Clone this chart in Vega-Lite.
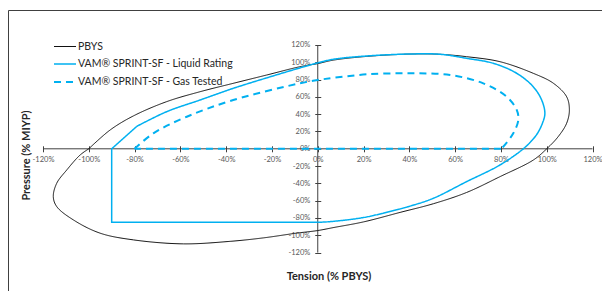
{
  "$schema": "https://vega.github.io/schema/vega-lite/v6.json",
  "width": 600,
  "height": 290,
  "autosize": {"type": "none"},
  "padding": {"left": 8, "top": 10, "right": 0, "bottom": 0},
  "background": "white",
  "datasets": {
    "axes": [
      {"t": -120, "t2": 120, "p": 0, "p2": 0},
      {"t": 0, "t2": 0, "p": -120, "p2": 120}
    ],
    "curves": [
      {"s": "PBYS", "g": "P", "k": "c", "i": 0, "t": -100, "p": 0},
      {"s": "PBYS", "g": "P", "k": "c", "i": 1, "t": -90.7, "p": 21.7},
      {"s": "PBYS", "g": "P", "k": "c", "i": 2, "t": -80.6, "p": 37.9},
      {"s": "PBYS", "g": "P", "k": "c", "i": 3, "t": -66, "p": 54.5},
      {"s": "PBYS", "g": "P", "k": "c", "i": 4, "t": -51.4, "p": 66},
      {"s": "PBYS", "g": "P", "k": "c", "i": 5, "t": -36.9, "p": 75.7},
      {"s": "PBYS", "g": "P", "k": "c", "i": 6, "t": -22.3, "p": 85.3},
      {"s": "PBYS", "g": "P", "k": "c", "i": 7, "t": -7.8, "p": 94.9},
      {"s": "PBYS", "g": "P", "k": "c", "i": 8, "t": 0, "p": 98.5},
      {"s": "PBYS", "g": "P", "k": "c", "i": 9, "t": 6.8, "p": 102.5},
      {"s": "PBYS", "g": "P", "k": "c", "i": 10, "t": 21.4, "p": 106.8},
      {"s": "PBYS", "g": "P", "k": "c", "i": 11, "t": 40, "p": 109.5},
      {"s": "PBYS", "g": "P", "k": "c", "i": 12, "t": 53, "p": 109.3},
      {"s": "PBYS", "g": "P", "k": "c", "i": 13, "t": 65, "p": 106.5},
      {"s": "PBYS", "g": "P", "k": "c", "i": 14, "t": 79.6, "p": 100.7},
      {"s": "PBYS", "g": "P", "k": "c", "i": 15, "t": 94.1, "p": 87.3},
      {"s": "PBYS", "g": "P", "k": "c", "i": 16, "t": 102.9, "p": 75.8},
      {"s": "PBYS", "g": "P", "k": "c", "i": 17, "t": 108.7, "p": 60.2},
      {"s": "PBYS", "g": "P", "k": "c", "i": 18, "t": 109.9, "p": 44.9},
      {"s": "PBYS", "g": "P", "k": "c", "i": 19, "t": 108.7, "p": 29.5},
      {"s": "PBYS", "g": "P", "k": "c", "i": 20, "t": 105, "p": 14},
      {"s": "PBYS", "g": "P", "k": "c", "i": 21, "t": 100, "p": 0},
      {"s": "PBYS", "g": "P", "k": "c", "i": 22, "t": 94.2, "p": -12.9},
      {"s": "PBYS", "g": "P", "k": "c", "i": 23, "t": 79.6, "p": -32.2},
      {"s": "PBYS", "g": "P", "k": "c", "i": 24, "t": 65, "p": -50.5},
      {"s": "PBYS", "g": "P", "k": "c", "i": 25, "t": 50.5, "p": -63.5},
      {"s": "PBYS", "g": "P", "k": "c", "i": 26, "t": 36, "p": -73.5},
      {"s": "PBYS", "g": "P", "k": "c", "i": 27, "t": 20, "p": -84.5},
      {"s": "PBYS", "g": "P", "k": "c", "i": 28, "t": 7, "p": -91},
      {"s": "PBYS", "g": "P", "k": "c", "i": 29, "t": 0, "p": -94.5},
      {"s": "PBYS", "g": "P", "k": "c", "i": 30, "t": -9.2, "p": -97.5},
      {"s": "PBYS", "g": "P", "k": "c", "i": 31, "t": -23.8, "p": -103},
      {"s": "PBYS", "g": "P", "k": "c", "i": 32, "t": -38.3, "p": -107},
      {"s": "PBYS", "g": "P", "k": "c", "i": 33, "t": -58.7, "p": -109.9},
      {"s": "PBYS", "g": "P", "k": "c", "i": 34, "t": -80.5, "p": -105.3},
      {"s": "PBYS", "g": "P", "k": "c", "i": 35, "t": -95.1, "p": -97.5},
      {"s": "PBYS", "g": "P", "k": "c", "i": 36, "t": -106.8, "p": -82.1},
      {"s": "PBYS", "g": "P", "k": "c", "i": 37, "t": -114, "p": -66.8},
      {"s": "PBYS", "g": "P", "k": "c", "i": 38, "t": -115.5, "p": -55.3},
      {"s": "PBYS", "g": "P", "k": "c", "i": 39, "t": -114, "p": -39.8},
      {"s": "PBYS", "g": "P", "k": "c", "i": 40, "t": -109.6, "p": -24.4},
      {"s": "PBYS", "g": "P", "k": "c", "i": 41, "t": -103.8, "p": -7.2},
      {"s": "PBYS", "g": "P", "k": "c", "i": 42, "t": -100, "p": 0},

      {"s": "VAM® SPRINT-SF - Liquid Rating", "g": "Lc", "k": "c", "i": 0, "t": 0, "p": -85},
      {"s": "VAM® SPRINT-SF - Liquid Rating", "g": "Lc", "k": "c", "i": 1, "t": 5.3, "p": -84.2},
      {"s": "VAM® SPRINT-SF - Liquid Rating", "g": "Lc", "k": "c", "i": 2, "t": 19.9, "p": -79.5},
      {"s": "VAM® SPRINT-SF - Liquid Rating", "g": "Lc", "k": "c", "i": 3, "t": 33.7, "p": -71},
      {"s": "VAM® SPRINT-SF - Liquid Rating", "g": "Lc", "k": "c", "i": 4, "t": 40.3, "p": -66.3},
      {"s": "VAM® SPRINT-SF - Liquid Rating", "g": "Lc", "k": "c", "i": 5, "t": 50.5, "p": -57.2},
      {"s": "VAM® SPRINT-SF - Liquid Rating", "g": "Lc", "k": "c", "i": 6, "t": 65, "p": -38},
      {"s": "VAM® SPRINT-SF - Liquid Rating", "g": "Lc", "k": "c", "i": 7, "t": 79.6, "p": -18.7},
      {"s": "VAM® SPRINT-SF - Liquid Rating", "g": "Lc", "k": "c", "i": 8, "t": 89.8, "p": 0},
      {"s": "VAM® SPRINT-SF - Liquid Rating", "g": "Lc", "k": "c", "i": 9, "t": 93.3, "p": 9},
      {"s": "VAM® SPRINT-SF - Liquid Rating", "g": "Lc", "k": "c", "i": 10, "t": 96, "p": 18},
      {"s": "VAM® SPRINT-SF - Liquid Rating", "g": "Lc", "k": "c", "i": 11, "t": 98.2, "p": 30},
      {"s": "VAM® SPRINT-SF - Liquid Rating", "g": "Lc", "k": "c", "i": 12, "t": 99.2, "p": 41},
      {"s": "VAM® SPRINT-SF - Liquid Rating", "g": "Lc", "k": "c", "i": 13, "t": 97.8, "p": 56.4},
      {"s": "VAM® SPRINT-SF - Liquid Rating", "g": "Lc", "k": "c", "i": 14, "t": 94.1, "p": 71.8},
      {"s": "VAM® SPRINT-SF - Liquid Rating", "g": "Lc", "k": "c", "i": 15, "t": 86.9, "p": 87.3},
      {"s": "VAM® SPRINT-SF - Liquid Rating", "g": "Lc", "k": "c", "i": 16, "t": 76.7, "p": 98.8},
      {"s": "VAM® SPRINT-SF - Liquid Rating", "g": "Lc", "k": "c", "i": 17, "t": 65, "p": 104.6},
      {"s": "VAM® SPRINT-SF - Liquid Rating", "g": "Lc", "k": "c", "i": 18, "t": 53.4, "p": 109.3},
      {"s": "VAM® SPRINT-SF - Liquid Rating", "g": "Lc", "k": "c", "i": 19, "t": 40.3, "p": 109.6},
      {"s": "VAM® SPRINT-SF - Liquid Rating", "g": "Lc", "k": "c", "i": 20, "t": 21.4, "p": 107.3},
      {"s": "VAM® SPRINT-SF - Liquid Rating", "g": "Lc", "k": "c", "i": 21, "t": 6.8, "p": 103.5},
      {"s": "VAM® SPRINT-SF - Liquid Rating", "g": "Lc", "k": "c", "i": 22, "t": 0, "p": 99.3},
      {"s": "VAM® SPRINT-SF - Liquid Rating", "g": "Lc", "k": "c", "i": 23, "t": -7.8, "p": 93.5},
      {"s": "VAM® SPRINT-SF - Liquid Rating", "g": "Lc", "k": "c", "i": 24, "t": -22.3, "p": 82},
      {"s": "VAM® SPRINT-SF - Liquid Rating", "g": "Lc", "k": "c", "i": 25, "t": -36.9, "p": 69.9},
      {"s": "VAM® SPRINT-SF - Liquid Rating", "g": "Lc", "k": "c", "i": 26, "t": -51.4, "p": 56.4},
      {"s": "VAM® SPRINT-SF - Liquid Rating", "g": "Lc", "k": "c", "i": 27, "t": -66, "p": 42.9},
      {"s": "VAM® SPRINT-SF - Liquid Rating", "g": "Lc", "k": "c", "i": 28, "t": -79, "p": 26},
      {"s": "VAM® SPRINT-SF - Liquid Rating", "g": "Ls", "k": "s", "i": 0, "t": -79, "p": 26},
      {"s": "VAM® SPRINT-SF - Liquid Rating", "g": "Ls", "k": "s", "i": 1, "t": -90, "p": 0},
      {"s": "VAM® SPRINT-SF - Liquid Rating", "g": "Ls", "k": "s", "i": 2, "t": -90, "p": -85},
      {"s": "VAM® SPRINT-SF - Liquid Rating", "g": "Ls", "k": "s", "i": 3, "t": 0, "p": -85},

      {"s": "VAM® SPRINT-SF - Gas Tested", "g": "Gc", "k": "c", "i": 0, "t": -80, "p": 0},
      {"s": "VAM® SPRINT-SF - Gas Tested", "g": "Gc", "k": "c", "i": 1, "t": -71.8, "p": 17.9},
      {"s": "VAM® SPRINT-SF - Gas Tested", "g": "Gc", "k": "c", "i": 2, "t": -57.2, "p": 37.1},
      {"s": "VAM® SPRINT-SF - Gas Tested", "g": "Gc", "k": "c", "i": 3, "t": -36.9, "p": 56.4},
      {"s": "VAM® SPRINT-SF - Gas Tested", "g": "Gc", "k": "c", "i": 4, "t": -7.8, "p": 75.7},
      {"s": "VAM® SPRINT-SF - Gas Tested", "g": "Gc", "k": "c", "i": 5, "t": 0, "p": 79.5},
      {"s": "VAM® SPRINT-SF - Gas Tested", "g": "Gc", "k": "c", "i": 6, "t": 6.8, "p": 82},
      {"s": "VAM® SPRINT-SF - Gas Tested", "g": "Gc", "k": "c", "i": 7, "t": 21.4, "p": 86.1},
      {"s": "VAM® SPRINT-SF - Gas Tested", "g": "Gc", "k": "c", "i": 8, "t": 40.3, "p": 87.3},
      {"s": "VAM® SPRINT-SF - Gas Tested", "g": "Gc", "k": "c", "i": 9, "t": 57.8, "p": 85.3},
      {"s": "VAM® SPRINT-SF - Gas Tested", "g": "Gc", "k": "c", "i": 10, "t": 72.3, "p": 75.7},
      {"s": "VAM® SPRINT-SF - Gas Tested", "g": "Gc", "k": "c", "i": 11, "t": 82.5, "p": 60.2},
      {"s": "VAM® SPRINT-SF - Gas Tested", "g": "Gc", "k": "c", "i": 12, "t": 86.9, "p": 44.9},
      {"s": "VAM® SPRINT-SF - Gas Tested", "g": "Gc", "k": "c", "i": 13, "t": 87.6, "p": 33.3},
      {"s": "VAM® SPRINT-SF - Gas Tested", "g": "Gc", "k": "c", "i": 14, "t": 85.4, "p": 17.9},
      {"s": "VAM® SPRINT-SF - Gas Tested", "g": "Gc", "k": "c", "i": 15, "t": 81, "p": 2.4},
      {"s": "VAM® SPRINT-SF - Gas Tested", "g": "Gc", "k": "c", "i": 16, "t": 80, "p": 0},
      {"s": "VAM® SPRINT-SF - Gas Tested", "g": "Gs", "k": "s", "i": 0, "t": 80, "p": 0},
      {"s": "VAM® SPRINT-SF - Gas Tested", "g": "Gs", "k": "s", "i": 1, "t": -80, "p": 0}
    ]
  },
  "encoding": {
    "x": {
      "field": "t", "type": "quantitative",
      "scale": {"domain": [-135.286, 126.768], "nice": false, "zero": false},
      "axis": {
        "title": "Tension (% PBYS)",
        "values": [-120, -100, -80, -60, -40, -20, 0, 20, 40, 60, 80, 100, 120],
        "labelExpr": "datum.value + '%'",
        "domain": false, "grid": false,
        "offset": -154.2,
        "tickSize": 6, "tickColor": "#404040", "tickWidth": 1,
        "labelFont": "Lato", "labelFontSize": 7.5, "labelColor": "#595959",
        "labelPadding": 4, "labelFlush": false, "labelOverlap": false,
        "titleFont": "Lato", "titleFontSize": 11, "titleFontWeight": "bold", "titleColor": "#262626",
        "titleX": 320.5, "titleY": 131, "titleAlign": "center", "titleBaseline": "middle"
      }
    },
    "y": {
      "field": "p", "type": "quantitative",
      "scale": {"domain": [-174.8, 160.46], "nice": false, "zero": false},
      "axis": {
        "title": "Pressure (% MIYP)",
        "values": [-120, -100, -80, -60, -40, -20, 0, 20, 40, 60, 80, 100, 120],
        "labelExpr": "datum.value + '%'",
        "domain": false, "grid": false,
        "offset": -312.75,
        "tickSize": 6, "tickColor": "#404040", "tickWidth": 1,
        "labelFont": "Lato", "labelFontSize": 7.5, "labelColor": "#595959",
        "labelPadding": 5, "labelFlush": false, "labelOverlap": false,
        "titleFont": "Lato", "titleFontSize": 11, "titleFontWeight": "bold", "titleColor": "#262626",
        "titleX": -294.75, "titleY": 145, "titleAngle": 270, "titleAlign": "center", "titleBaseline": "middle"
      }
    }
  },
  "layer": [
    {
      "data": {"name": "axes"},
      "mark": {"type": "rule", "color": "#404040", "strokeWidth": 1},
      "encoding": {"x2": {"field": "t2"}, "y2": {"field": "p2"}}
    },
    {
      "data": {"name": "curves"},
      "transform": [{"filter": "datum.k == 'c'"}],
      "mark": {"type": "line", "interpolate": "catmull-rom"},
      "encoding": {
        "color": {"field": "s", "type": "nominal", "title": null,
          "scale": {"domain": ["PBYS", "VAM® SPRINT-SF - Liquid Rating", "VAM® SPRINT-SF - Gas Tested"], "range": ["#111111", "#00B0F0", "#00B0F0"]}},
        "strokeDash": {"field": "s", "type": "nominal", "title": null,
          "scale": {"domain": ["PBYS", "VAM® SPRINT-SF - Liquid Rating", "VAM® SPRINT-SF - Gas Tested"], "range": [[1, 0], [1, 0], [7, 5]]}},
        "strokeWidth": {"field": "s", "type": "nominal", "title": null,
          "scale": {"domain": ["PBYS", "VAM® SPRINT-SF - Liquid Rating", "VAM® SPRINT-SF - Gas Tested"], "range": [1, 2, 2]}},
        "detail": {"field": "g"},
        "order": {"field": "i", "type": "quantitative"}
      }
    },
    {
      "data": {"name": "curves"},
      "transform": [{"filter": "datum.k == 's'"}],
      "mark": {"type": "line", "interpolate": "linear"},
      "encoding": {
        "color": {"field": "s", "type": "nominal", "title": null},
        "strokeDash": {"field": "s", "type": "nominal", "title": null},
        "strokeWidth": {"field": "s", "type": "nominal", "title": null},
        "detail": {"field": "g"},
        "order": {"field": "i", "type": "quantitative"}
      }
    }
  ],
  "config": {
    "view": {"stroke": "#404040", "strokeWidth": 1},
    "legend": {
      "orient": "none", "legendX": 45, "legendY": 25, "padding": 0,
      "symbolType": "stroke", "symbolSize": 484,
      "labelFont": "Lato", "labelFontSize": 10.5, "labelColor": "#262626",
      "labelOffset": 1, "rowPadding": -9
    }
  }
}
